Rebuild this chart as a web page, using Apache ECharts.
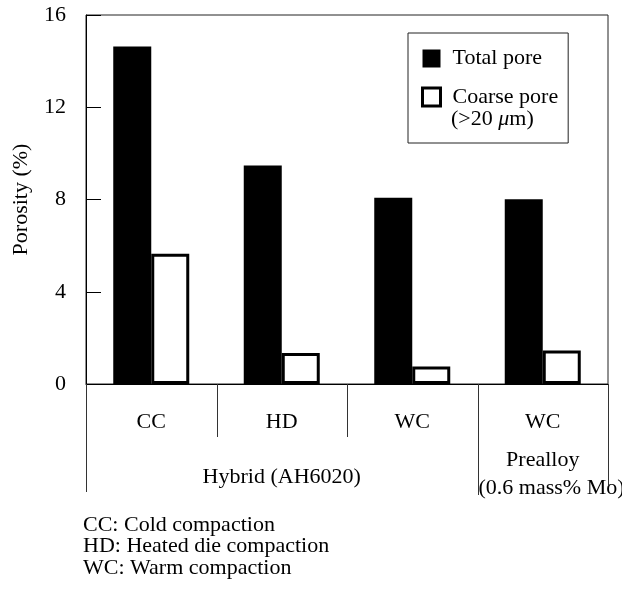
<!DOCTYPE html>
<html><head><meta charset="utf-8">
<script src="https://cdn.jsdelivr.net/npm/echarts@6/dist/echarts.min.js"></script>
<style>html,body{margin:0;padding:0;background:#fff}#c{width:622px;height:594px}</style>
</head><body><div id="c"></div>
<script>
const categories = ['CC', 'HD', 'WC', 'WC'];
const totalPore = [14.63, 9.47, 8.08, 8.01];
const coarsePore = [5.65, 1.34, 0.76, 1.45];
const yTicks = ['0', '4', '8', '12', '16'];
const seriesNames = ['Total pore', 'Coarse pore'];
const legendExtra = ['(>20 ', 'μ', 'm)'];
const groupLabels = ['Hybrid (AH6020)', 'Prealloy', '(0.6 mass% Mo)'];
const footnotes = ['CC: Cold compaction', 'HD: Heated die compaction', 'WC: Warm compaction'];

const FONT = "'Liberation Serif','Times New Roman',serif";
const chart = echarts.init(document.getElementById('c'), null, {renderer: 'canvas'});
const option = {
  backgroundColor: '#fff',
  animation: false,
  textStyle: {fontFamily: FONT},
  grid: {left: 86, top: 15, right: 14, bottom: 210, show: true, borderColor: '#222', borderWidth: 1,
         containLabel: false, outerBoundsMode: 'none'},
  legend: {
    orient: 'vertical', left: 408, top: 33,
    padding: [14.5, 10, 35, 13],
    itemWidth: 18, itemHeight: 18, itemGap: 16.5,
    backgroundColor: '#fff', borderColor: '#222', borderWidth: 1, borderRadius: 0,
    icon: 'rect',
    textStyle: {fontSize: 22, color: '#000', fontFamily: FONT, lineHeight: 22, padding: [0, 0, 0, 7]},
    data: [
      {name: seriesNames[0], itemStyle: {color: '#000', borderWidth: 0}},
      {name: seriesNames[1], itemStyle: {color: '#fff', borderColor: '#000', borderWidth: 3}}
    ]
  },
  xAxis: {
    type: 'category', data: categories,
    axisLine: {lineStyle: {color: '#000', width: 1}},
    axisTick: {show: false},
    axisLabel: {fontSize: 22, color: '#000', margin: 27, fontFamily: FONT}
  },
  yAxis: {
    type: 'value', min: 0, max: 16, interval: 4,
    name: 'Porosity (%)', nameLocation: 'middle', nameGap: 54, nameRotate: 90,
    nameTextStyle: {fontSize: 22, color: '#000', fontFamily: FONT},
    axisLine: {show: true, lineStyle: {color: '#000', width: 1}},
    axisTick: {show: true, inside: true, length: 15, lineStyle: {color: '#000'}},
    axisLabel: {fontSize: 22, color: '#000', margin: 20, fontFamily: FONT,
                formatter: v => yTicks[Math.round(v / 4)]},
    splitLine: {show: false}
  },
  series: [
    {name: seriesNames[0], type: 'bar', data: totalPore, barWidth: 38, barGap: '0%',
     itemStyle: {color: '#000'}},
    {name: seriesNames[1], type: 'bar', data: coarsePore, barWidth: 38, barGap: '0%',
     itemStyle: {color: '#fff', borderColor: '#000', borderWidth: 3}}
  ]
};
chart.setOption(option);

const cx = i => chart.convertToPixel({xAxisIndex: 0}, i);
const half = (cx(1) - cx(0)) / 2;
const bx = [cx(0) - half, cx(1) - half, cx(2) - half, cx(3) - half, cx(3) + half];
const y0 = chart.convertToPixel({yAxisIndex: 0}, 0);
const lineLens = [108, 53, 53, 111, 101];
const lineEls = bx.map((x, i) => ({
  type: 'line', silent: true, z: 10,
  shape: {x1: Math.round(x) + 0.5, y1: y0, x2: Math.round(x) + 0.5, y2: y0 + lineLens[i]},
  style: {stroke: '#333', lineWidth: 1}
}));
const txt = (text, x, y, align) => ({
  type: 'text', silent: true, z: 10,
  style: {text: text, x: x, y: y, align: align || 'center', verticalAlign: 'middle',
          fontSize: 22, fontFamily: FONT, fill: '#000'}
});
chart.setOption({
  graphic: [
    ...lineEls,
    txt(groupLabels[0], (bx[0] + bx[3]) / 2, y0 + 93),
    txt(groupLabels[1], (bx[3] + bx[4]) / 2, y0 + 76),
    txt(groupLabels[2], bx[3] + 1, y0 + 104, 'left'),
    {
      type: 'text', silent: true, z: 20,
      style: {text: '{a|' + legendExtra[0] + '}{i|' + legendExtra[1] + '}{a|' + legendExtra[2] + '}',
              x: 451, y: 119, align: 'left', verticalAlign: 'middle',
              fontSize: 22, fontFamily: FONT, fill: '#000',
              rich: {a: {fontSize: 22, fontFamily: FONT, fill: '#000'},
                     i: {fontSize: 22, fontFamily: FONT, fontStyle: 'italic', fill: '#000'}}}
    },
    {
      type: 'text', silent: true, z: 10,
      style: {text: footnotes.join('\n'), x: 83, y: 514.25, align: 'left', verticalAlign: 'top',
              fontSize: 22, fontFamily: FONT, fill: '#000', lineHeight: 21.5}
    }
  ]
});
</script>
</body></html>
